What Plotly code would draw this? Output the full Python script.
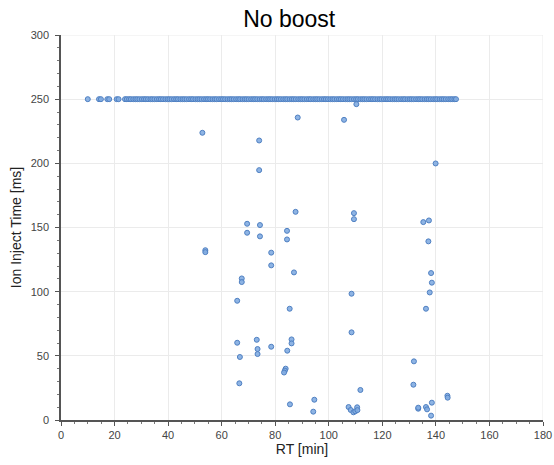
import plotly.graph_objects as go

# RT values of spectra at the 250 ms injection-time ceiling
rt_cap = [10.0, 14.2, 14.9, 17.3, 18.0, 20.8, 21.5, 23.9, 24.6, 25.4, 26.1, 27.0, 27.8, 28.5, 29.3, 30.2,
          31.0, 31.7, 32.5, 33.4, 34.1, 34.9, 35.8, 36.6, 37.3, 38.1, 39.0, 39.8, 40.5, 41.3, 42.2, 43.0,
          43.7, 44.6, 45.4, 46.1, 46.9, 47.8, 48.6, 49.3, 50.2, 51.0, 51.7, 52.5, 53.4, 54.2, 54.9, 55.7,
          56.6, 57.4, 58.1, 59.0, 59.8, 60.5, 61.3, 62.2, 63.0, 63.7, 64.5, 65.4, 66.2, 66.9, 67.8, 68.6,
          69.3, 70.1, 71.0, 71.8, 72.5, 73.3, 74.2, 75.0, 75.7, 76.6, 77.4, 78.1, 78.9, 79.8, 80.6, 81.3,
          82.1, 83.0, 83.8, 84.5, 85.4, 86.2, 86.9, 87.7, 88.6, 89.4, 90.1, 90.9, 91.8, 92.6, 93.3, 94.2,
          95.0, 95.7, 96.5, 97.4, 98.2, 98.9, 99.7, 100.6, 101.4, 102.1, 103.0, 103.8, 104.5, 105.3, 106.2,
          107.0, 107.7, 108.5, 109.4, 110.2, 110.9, 111.8, 112.6, 113.3, 114.1, 115.0, 115.8, 116.5, 117.3,
          118.2, 119.0, 119.7, 120.6, 121.4, 122.1, 122.9, 123.8, 124.6, 125.3, 126.1, 127.0, 127.8, 128.5,
          129.4, 130.2, 130.9, 131.7, 132.6, 133.4, 134.1, 134.9, 135.8, 136.6, 137.3, 138.1, 139.0, 139.8,
          140.5, 141.4, 142.2, 142.9, 143.7, 144.6, 145.4, 146.1, 146.9, 147.5]
iit_cap = [250] * len(rt_cap)

# Spectra below the ceiling
rt_low = [110.3, 88.4, 105.7, 52.8, 74.0, 139.9, 74.0, 87.6, 109.4, 109.4, 69.5, 74.3, 135.3, 137.4,
          69.5, 74.3, 84.4, 84.4, 137.2, 53.9, 53.9, 78.5, 78.5, 87.0, 138.2, 67.5, 67.5, 138.5,
          108.5, 137.7, 65.8, 85.4, 136.3, 108.5, 65.8, 73.1, 86.1, 86.1, 73.4, 73.4, 78.5, 84.5,
          66.8, 131.8, 83.9, 83.6, 83.3, 66.6, 131.6, 111.8, 144.3, 144.4, 94.6, 138.5, 85.5,
          107.4, 108.2, 109.2, 109.9, 110.6, 110.7, 133.4, 133.4, 136.3, 136.7, 94.2, 138.2]
iit_low = [246.1, 235.7, 233.9, 223.8, 217.8, 199.9, 194.7, 162.2, 161.2, 156.5, 152.9, 151.9, 154.2, 155.5,
           145.9, 143.1, 147.4, 140.7, 139.2, 132.3, 130.8, 130.4, 120.5, 115.0, 114.5, 110.3, 107.5, 107.0,
           98.4, 99.4, 92.9, 86.7, 86.7, 68.3, 60.2, 62.5, 62.8, 59.7, 55.3, 51.4, 57.1, 54.0,
           49.1, 45.7, 40.0, 38.5, 37.0, 28.6, 27.5, 23.4, 18.9, 17.4, 15.8, 13.5, 12.2,
           10.1, 7.8, 6.0, 6.8, 9.9, 7.7, 8.8, 9.6, 10.1, 8.3, 6.5, 3.4]

x_ticks = [0, 20, 40, 60, 80, 100, 120, 140, 160, 180]
y_ticks = [0, 50, 100, 150, 200, 250, 300]

marker = dict(size=5, color="rgba(130,172,225,0.9)", line=dict(color="#4f80c2", width=1))

fig = go.Figure()
fig.add_trace(go.Scatter(x=rt_cap + rt_low, y=iit_cap + iit_low, mode="markers",
                         marker=marker, showlegend=False))

fig.update_layout(
    width=554, height=465,
    margin=dict(l=61, r=11, t=35, b=45, autoexpand=False),
    paper_bgcolor="white", plot_bgcolor="white",
    font=dict(family="Liberation Sans, Arial, sans-serif", color="#444444", size=11),
    title=dict(text="No boost", x=0.522, xanchor="center", y=0.976, yanchor="top",
               font=dict(size=23, color="black")),
)
fig.update_xaxes(
    range=[0, 180], tickvals=x_ticks, ticktext=[str(v) for v in x_ticks], automargin=False,
    showgrid=True, gridcolor="#ebebeb", gridwidth=1, zeroline=False,
    showline=True, linecolor="#555555", linewidth=1.5, mirror=False,
    ticks="outside", ticklen=4, tickcolor="#555555",
    minor=dict(dtick=5, ticks="outside", ticklen=2, tickcolor="#777777", showgrid=False),
    title=dict(text="RT [min]", font=dict(size=14, color="#222222"), standoff=2),
)
fig.update_yaxes(
    range=[0, 300], tickvals=y_ticks, ticktext=[str(v) for v in y_ticks], automargin=False,
    showgrid=True, gridcolor="#ebebeb", gridwidth=1, zeroline=False,
    showline=True, linecolor="#555555", linewidth=1.5, mirror=False,
    ticks="outside", ticklen=4, tickcolor="#555555", ticklabelstandoff=4,
    minor=dict(dtick=10, ticks="outside", ticklen=2, tickcolor="#777777", showgrid=False),
    title=dict(text="Ion Inject Time [ms]", font=dict(size=14, color="#222222"), standoff=6),
)
# right border gridline at 180 / top gridline at 300
fig.add_shape(type="line", xref="x", yref="paper", x0=180, x1=180, y0=0, y1=1,
              line=dict(color="#ebebeb", width=1), layer="below")
fig.add_shape(type="line", xref="paper", yref="y", x0=0, x1=1, y0=300, y1=300,
              line=dict(color="#ebebeb", width=1), layer="below")

fig.write_html("out.html", config={"displayModeBar": False},
               post_script="document.body.style.margin='0';")
